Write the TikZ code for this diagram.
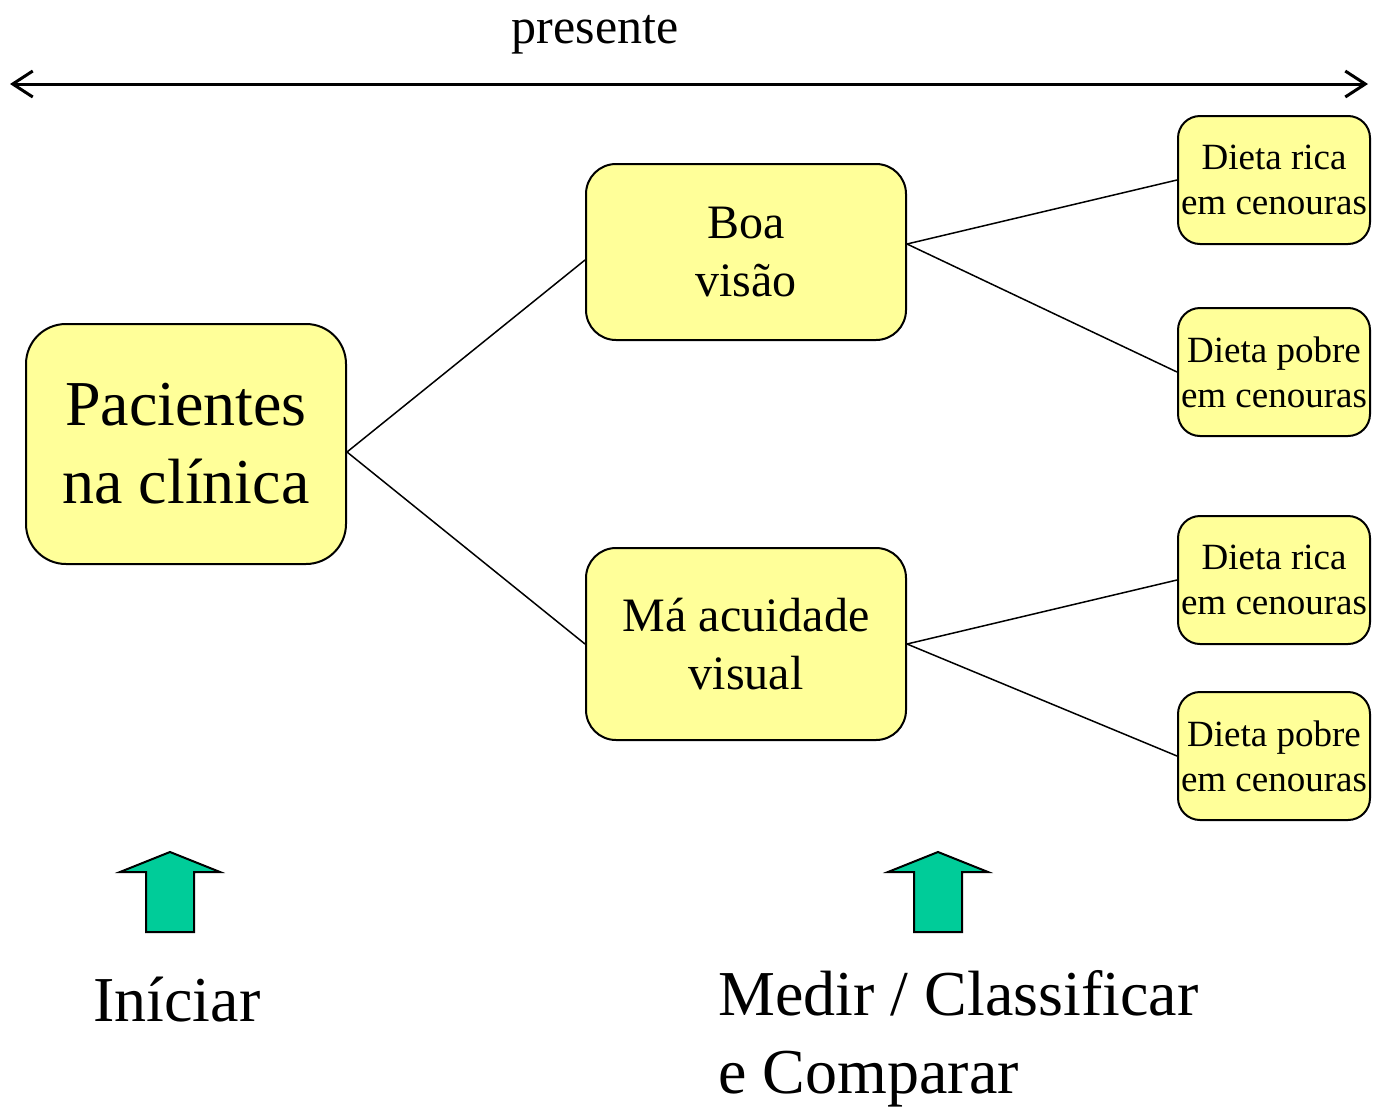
\documentclass[tikz,border=0pt]{standalone}
\usepackage{fontspec}
\setmainfont{Liberation Serif}
\usetikzlibrary{arrows.meta}
\definecolor{amarelo}{HTML}{FFFF99}
\definecolor{verde}{HTML}{00CC99}
\begin{document}
\begin{tikzpicture}[x=0.5pt,y=-0.5pt,
	caixa/.style={draw,fill=amarelo,line width=1pt,inner sep=0pt,align=center,rounded corners=15pt},
	grande/.style={font=\fontsize{32}{39}\selectfont},
	medio/.style={font=\fontsize{24}{29}\selectfont},
	pequeno/.style={font=\fontsize{18.5}{22.5}\selectfont,minimum width=96pt,minimum height=64pt,rounded corners=11pt},
	ramo/.style={line width=0.75pt},
	seta/.style={draw,fill=verde,line width=1pt}]
\useasboundingbox (0,0) rectangle (1375,1108);

%eixo do tempo
\node[anchor=base,font=\fontsize{25}{30}\selectfont] (pres) at (595,43) {presente};
\coordinate (ini) at (10,84);
\coordinate (fim) at (1368,84);
\draw[line width=1.5pt,{Straight Barb[length=10pt,width=13pt]}-{Straight Barb[length=10pt,width=13pt]}] (ini) -- (fim);

%caixas
\node[caixa,grande,minimum width=160pt,minimum height=120pt,rounded corners=20pt] (P) at (186,444)
	{Pacientes\\ na clínica};
\node[caixa,medio,minimum width=160pt,minimum height=88pt] (B) at (746,252) {Boa\\ visão};
\node[caixa,medio,minimum width=160pt,minimum height=96pt] (M) at (746,644) {Má acuidade\\ visual};
\node[caixa,pequeno] (R1) at (1274,180) {Dieta rica\\ em cenouras};
\node[caixa,pequeno] (D1) at (1274,372) {Dieta pobre\\ em cenouras};
\node[caixa,pequeno] (R2) at (1274,580) {Dieta rica\\ em cenouras};
\node[caixa,pequeno] (D2) at (1274,756) {Dieta pobre\\ em cenouras};

%ligacoes
\draw[ramo] ([yshift=-4pt]P.east) -- ([yshift=-4pt]B.west);
\draw[ramo] ([yshift=-4pt]P.east) -- (M.west);
\draw[ramo] ([yshift=4pt]B.east) -- (R1.west);
\draw[ramo] ([yshift=4pt]B.east) -- (D1.west);
\draw[ramo] (M.east) -- (R2.west);
\draw[ramo] (M.east) -- (D2.west);

%setas
\draw[seta] (170,852) -- (220,872) -- (194,872) -- (194,932) -- (146,932) -- (146,872) -- (120,872) -- cycle;
\draw[seta] (938,852) -- (988,872) -- (962,872) -- (962,932) -- (914,932) -- (914,872) -- (888,872) -- cycle;

\node[grande,anchor=west,inner sep=0pt] (I) at (93,1000) {Iníciar};
\node[grande,anchor=west,inner sep=0pt,align=left] (MC) at (718,1039) {Medir / Classificar\\ e Comparar};

\end{tikzpicture}
\end{document}
